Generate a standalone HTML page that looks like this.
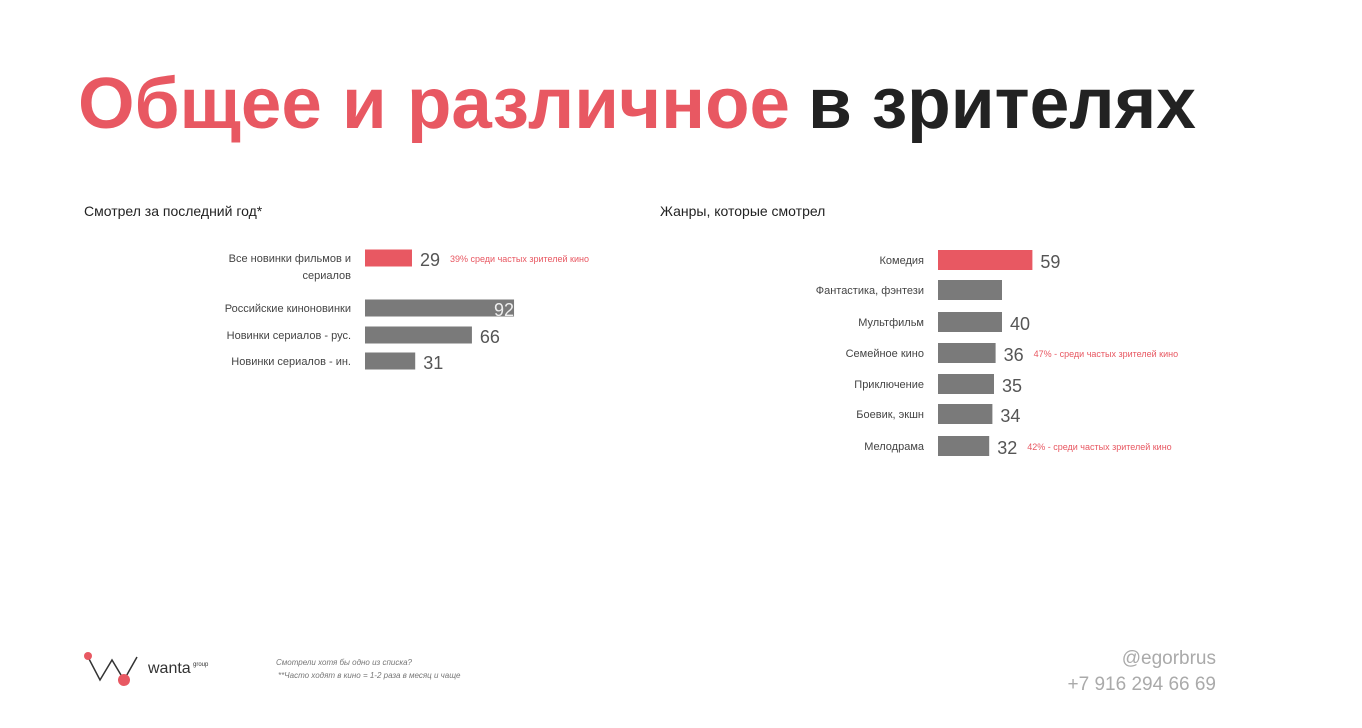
<!DOCTYPE html>
<html><head><meta charset="utf-8"><style>
html,body{margin:0;padding:0;background:#fff;}
svg{display:block;font-family:"Liberation Sans","Noto Sans CJK SC",sans-serif;}
</style></head><body>
<svg id="s" width="1362" height="728" viewBox="0 0 1362 728">
<text x="78" y="128" font-size="72" font-weight="bold" fill="#e85862" textLength="712" lengthAdjust="spacingAndGlyphs">Общее и различное</text>
<text x="808" y="128" font-size="72" font-weight="bold" fill="#222" textLength="388" lengthAdjust="spacingAndGlyphs">в зрителях</text>
<text x="84" y="216" font-size="14" fill="#222">Смотрел за последний год*</text>
<text x="660" y="216" font-size="14" fill="#222">Жанры, которые смотрел</text>
<g id="left"></g>
<g id="right"></g>
<g>
<polyline points="88,657 100,680 112,660 124,680 137,657" fill="none" stroke="#333" stroke-width="1.5"/>
<circle cx="88" cy="656" r="4" fill="#e85862"/>
<circle cx="124" cy="680" r="6" fill="#e85862"/>
<text x="148" y="673" font-size="16" fill="#333">wanta</text>
<text x="193" y="666" font-size="6" fill="#333">group</text>
</g>
<text x="276" y="665" font-size="8" font-style="italic" fill="#777">Смотрели хотя бы одно из списка?</text>
<text x="278" y="678" font-size="8" font-style="italic" fill="#777">**Часто ходят в кино = 1-2 раза в месяц и чаще</text>
<text x="1216" y="664" font-size="19" fill="#aaa" text-anchor="end">@egorbrus</text>
<text x="1216" y="690" font-size="19" fill="#aaa" text-anchor="end">+7 916 294 66 69</text>
</svg>
<script>
const leftCats=["Все новинки фильмов и|сериалов","Российские киноновинки","Новинки сериалов - рус.","Новинки сериалов - ин."];
const leftVals=[29,92,66,31];
const leftNotes=["39% среди частых зрителей кино","","",""];
const rightCats=["Комедия","Фантастика, фэнтези","Мультфильм","Семейное кино","Приключение","Боевик, экшн","Мелодрама"];
const rightVals=[59,40,40,36,35,34,32];
const rightShowVal=[true,false,true,true,true,true,true];
const rightNotes=["","","","47% - среди частых зрителей кино","","","42% - среди частых зрителей кино"];
const NS="http://www.w3.org/2000/svg";
function mk(tag,attrs,parent){const e=document.createElementNS(NS,tag);for(const k in attrs)e.setAttribute(k,attrs[k]);parent.appendChild(e);return e;}
function draw(g,cats,vals,notes,x0,scale,ys,h,show){
  cats.forEach((c,i)=>{
    const w=vals[i]*scale, y=ys[i];
    const r=mk('rect',{x:x0,y:y-h/2,width:w,height:h,fill:i===0?'#e85862':'#7a7a7a'},g);
    
    
    const parts=c.split('|');
    parts.forEach((p,j)=>{
      const t=mk('text',{x:x0-14,y:y+4+j*17,'font-size':11,fill:'#444','text-anchor':'end'},g);
      t.textContent=p;
      
      
    });
    if(!show||show[i]){
      const over=x0+w+8>x0+140;
      const v=mk('text',{x:over?x0+w-20:x0+w+8,y:y+8,'font-size':18,fill:over?'#eee':'#555'},g);
      v.textContent=vals[i];
      
      
    }
    if(notes[i]){
      const n=mk('text',{x:x0+w+(vals[i]>50?36:38),y:y+4,'font-size':9,fill:'#e85862'},g);
      n.textContent=notes[i];
      
      
    }
  });
}
draw(document.getElementById('left'),leftCats,leftVals,leftNotes,365,1.62,[258,308,335,361],17,null);
draw(document.getElementById('right'),rightCats,rightVals,rightNotes,938,1.6,[260,290,322,353,384,414,446],20,rightShowVal);
</script>
</body></html>
